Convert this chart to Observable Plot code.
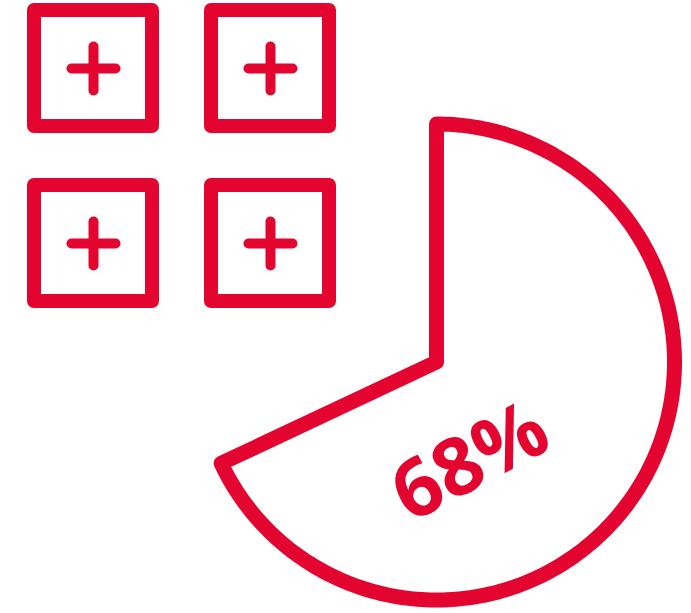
<!DOCTYPE html>
<html>
<head>
<meta charset="utf-8">
<script src="https://cdn.jsdelivr.net/npm/d3@7"></script>
<script src="https://cdn.jsdelivr.net/npm/@observablehq/plot@0.6"></script>
<style>
  html, body { margin: 0; padding: 0; background: #fff; }
  #chart svg { display: block; }
</style>
</head>
<body>
<div id="chart"></div>
<script>
// ---- data ----
const iconRows = [0, 0, 1, 1];
const iconCols = [0, 1, 0, 1];
const sharePercent = 68;
const shareLabel = "68%";

// ---- layout ----
const RED = "#e3042f";
const W = 691, H = 613;
const sq = {x0: 93, y0: 68, dx: 177, dy: 175, hw: 59, hh: 58, arm: 22};
const pie = {cx: 436, cy: 361.5, r: 238};

const icons = iconRows.map((r, i) => {
  const cx = sq.x0 + iconCols[i] * sq.dx;
  const cy = sq.y0 + r * sq.dy;
  return {cx, cy};
});

// pie slice outline (starting mid-way along the vertical radius so joins are clean)
const end = sharePercent / 100 * 2 * Math.PI;
const steps = 240;
const outline = [{x: pie.cx, y: pie.cy - pie.r / 2}, {x: pie.cx, y: pie.cy - pie.r}];
for (let k = 0; k <= steps; k++) {
  const a = end * k / steps;
  outline.push({x: pie.cx + pie.r * Math.sin(a), y: pie.cy - pie.r * Math.cos(a)});
}
outline.push({x: pie.cx, y: pie.cy});
outline.push({x: pie.cx, y: pie.cy - pie.r / 2});

const chart = Plot.plot({
  width: W,
  height: H,
  margin: 0,
  x: {type: "identity", axis: null},
  y: {type: "identity", axis: null},
  marks: [
    Plot.rect(icons, {
      x1: d => d.cx - sq.hw, x2: d => d.cx + sq.hw,
      y1: d => d.cy - sq.hh, y2: d => d.cy + sq.hh,
      fill: "none", stroke: RED, strokeWidth: 14, strokeLinejoin: "round"
    }),
    Plot.link(icons, {
      x1: d => d.cx - sq.arm, x2: d => d.cx + sq.arm,
      y1: d => d.cy, y2: d => d.cy,
      stroke: RED, strokeWidth: 10, strokeLinecap: "round"
    }),
    Plot.link(icons, {
      x1: d => d.cx, x2: d => d.cx,
      y1: d => d.cy - sq.arm, y2: d => d.cy + sq.arm,
      stroke: RED, strokeWidth: 10, strokeLinecap: "round"
    }),
    Plot.line(outline, {
      x: "x", y: "y", stroke: RED, strokeWidth: 15,
      strokeLinejoin: "round", strokeLinecap: "round"
    }),
    Plot.text([shareLabel], {
      x: () => 470, y: () => 462, text: d => d,
      rotate: -28, fontSize: 80, fontWeight: 700,
      fontFamily: "'Open Sans', sans-serif", fill: RED
    })
  ]
});
document.getElementById("chart").appendChild(chart);
</script>
</body>
</html>
